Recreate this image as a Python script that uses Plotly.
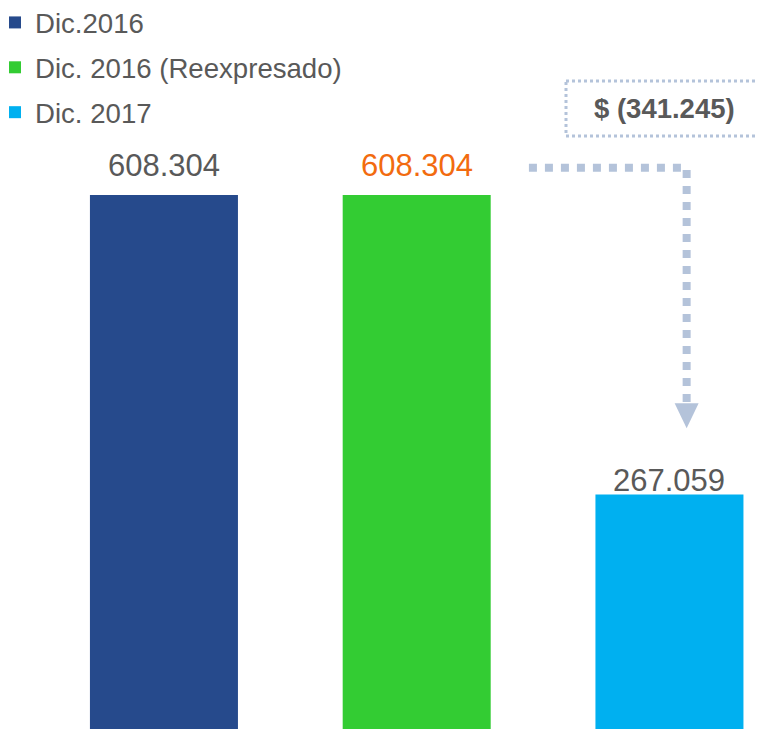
import plotly.graph_objects as go

# ---- data ----
categories = ["Dic.2016", "Dic. 2016 (Reexpresado)", "Dic. 2017"]
values = [608304, 608304, 267059]
value_labels = ["608.304", "608.304", "267.059"]
difference_label = "$ (341.245)"

bar_colors = ["#264A8C", "#33CC33", "#00B0F0"]
label_colors = ["#595959", "#F26B0F", "#595959"]
label_shifts = [10, 10, -5]
ARROW = "#B4C3DA"
FONT = "Liberation Sans, Arial, sans-serif"

W, H = 766, 729
OFF = 8  # page body margin
PW, PH = W - OFF, H - OFF  # plot area size


def px(x):
    return (x - OFF) / PW


def py(y):
    return 1 - (y - OFF) / PH


fig = go.Figure()
for i, cat in enumerate(categories):
    fig.add_trace(go.Bar(
        x=[cat], y=[values[i]], name=cat,
        marker=dict(color=bar_colors[i], line=dict(width=0)),
        width=0.5856, legendgroup=f"g{i}",
        hoverinfo="skip",
    ))

annotations = []
for i, cat in enumerate(categories):
    annotations.append(dict(
        x=cat, y=values[i], xref="x", yref="y", text=value_labels[i],
        showarrow=False, yanchor="bottom", yshift=label_shifts[i],
        font=dict(family=FONT, size=31, color=label_colors[i]),
    ))

# difference box
annotations.append(dict(
    x=px(664), y=py(109), xref="paper", yref="paper", text=f"<b>{difference_label}</b>",
    showarrow=False, xanchor="center", yanchor="middle",
    font=dict(family=FONT, size=27.5, color="#595959"),
))

shapes = []
shapes.append(dict(type="rect", xref="paper", yref="paper",
                   x0=px(566), x1=px(762), y0=py(81), y1=py(136),
                   line=dict(color=ARROW, width=3, dash="dot"), fillcolor="rgba(0,0,0,0)"))

# connector from previous value down to new value
y_top = values[1] + 31000
y_bottom = values[2] + 104000
x_start = 1.444
x_corner = 2.068
shapes.append(dict(type="path", xref="x", yref="y",
                   path=f"M {x_start},{y_top} L {x_corner},{y_top} L {x_corner},{y_bottom}",
                   line=dict(color=ARROW, width=8, dash="dot")))
shapes.append(dict(type="path", xref="x", yref="y",
                   xsizemode="pixel", ysizemode="pixel",
                   xanchor=x_corner, yanchor=y_bottom,
                   path="M -12,0 L 12,0 L 0,-25 Z",
                   fillcolor=ARROW, line=dict(width=0)))

fig.update_layout(
    width=W, height=H,
    margin=dict(l=0, r=OFF, t=0, b=OFF, autoexpand=False),
    paper_bgcolor="white", plot_bgcolor="white",
    barmode="overlay",
    showlegend=True,
    legend=dict(x=-0.01715, y=1.0139, xanchor="left", yanchor="top",
                font=dict(family=FONT, size=27.6, color="#595959"),
                tracegroupgap=6, bgcolor="rgba(0,0,0,0)", itemclick=False),
    xaxis=dict(range=[-0.617, 2.382], visible=False, type="category"),
    yaxis=dict(range=[0, 821300], visible=False),
    annotations=annotations,
    shapes=shapes,
)
fig.write_html("out.html")
